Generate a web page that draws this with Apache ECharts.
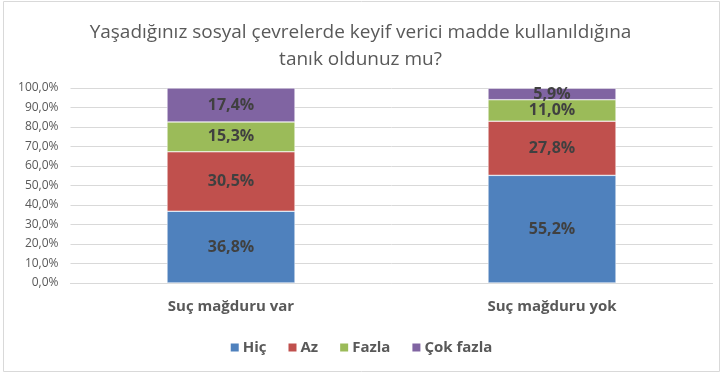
<!DOCTYPE html>
<html>
<head>
<meta charset="utf-8">
<script src="https://cdn.jsdelivr.net/npm/echarts@6/dist/echarts.min.js"></script>
<style>
  html, body { margin: 0; padding: 0; background: #fff; }
  #chart { width: 721px; height: 374px; }
</style>
</head>
<body>
<div id="chart"></div>
<script>
// Groups on the x axis
const categories = ['Suç mağduru var', 'Suç mağduru yok'];
// Share of each answer (percent) per group
const hic = [36.8, 55.2];
const az = [30.5, 27.8];
const fazla = [15.3, 11.0];
const cokFazla = [17.4, 5.9];
const seriesNames = ['Hiç', 'Az', 'Fazla', 'Çok fazla'];
const seriesColors = ['#4F81BD', '#C0504D', '#9BBB59', '#8064A2'];
const yTicks = [0, 10, 20, 30, 40, 50, 60, 70, 80, 90, 100];

const fmt = v => v.toFixed(1).replace('.', ',') + '%';
const font = '"Open Sans", "Liberation Sans", sans-serif';

const chart = echarts.init(document.getElementById('chart'), null, { renderer: 'canvas' });

const seriesData = [hic, az, fazla, cokFazla];

chart.setOption({
  animation: false,
  textStyle: { fontFamily: font },
  title: {
    text: 'Yaşadığınız sosyal çevrelerde keyif verici madde kullanıldığına\ntanık oldunuz mu?',
    left: 'center',
    top: 14,
    textStyle: { fontFamily: font, fontSize: 19, fontWeight: 'normal', color: '#595959', lineHeight: 27 }
  },
  graphic: [{
    type: 'rect',
    shape: { x: 3.5, y: 1.5, width: 716, height: 370 },
    style: { fill: 'none', stroke: '#d9d9d9', lineWidth: 1 },
    silent: true
  }],
  legend: {
    bottom: 14,
    left: 'center',
    itemWidth: 10,
    itemHeight: 10,
    itemGap: 20,
    icon: 'rect',
    data: seriesNames,
    textStyle: { fontFamily: font, fontSize: 15, fontWeight: 'bold', color: '#595959', padding: [0, 0, 0, -2] }
  },
  grid: { left: 70.5, right: 8.5, top: 88, bottom: 91, containLabel: false },
  xAxis: {
    type: 'category',
    data: categories,
    axisLine: { lineStyle: { color: '#d9d9d9', width: 1 } },
    axisTick: { show: false },
    axisLabel: { fontFamily: font, fontSize: 15, fontWeight: 'bold', color: '#595959', margin: 16 }
  },
  yAxis: {
    type: 'value',
    min: yTicks[0],
    max: yTicks[yTicks.length - 1],
    interval: yTicks[1] - yTicks[0],
    axisLine: { show: false },
    axisTick: { show: false },
    splitLine: { lineStyle: { color: '#d9d9d9', width: 1 } },
    axisLabel: { fontFamily: font, fontSize: 12, color: '#595959', margin: 12, formatter: v => fmt(v) }
  },
  series: seriesNames.map((name, i) => ({
    name,
    type: 'bar',
    stack: 'total',
    barWidth: 128,
    data: seriesData[i],
    itemStyle: { color: seriesColors[i], borderColor: '#ffffff', borderWidth: 0.5 },
    label: {
      show: true,
      position: 'inside',
      formatter: p => fmt(p.value),
      fontFamily: font,
      fontSize: 16,
      fontWeight: 'bold',
      color: '#404040'
    }
  }))
});
</script>
</body>
</html>
